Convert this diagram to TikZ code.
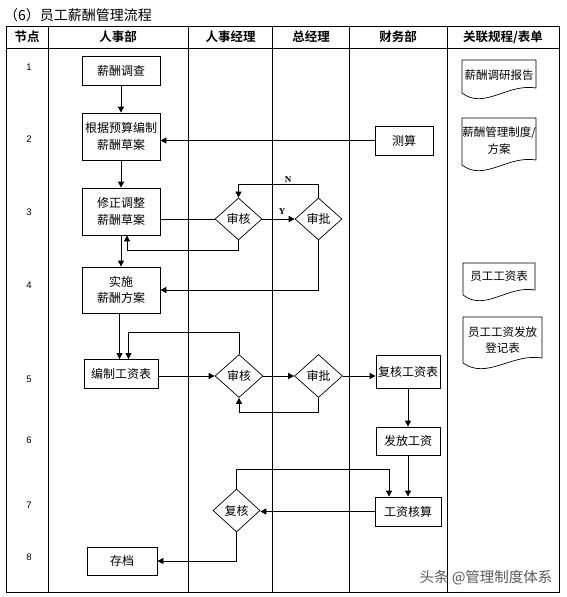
\documentclass[tikz,border=0pt]{standalone}
\usepackage{fontspec}
\setmainfont{Noto Sans CJK SC}[BoldFont={Noto Sans CJK SC Bold}]
\newfontfamily\numfont{Liberation Sans}
\newfontfamily\ynfont{Liberation Serif}
\usetikzlibrary{shapes.geometric,arrows.meta}
\begin{document}
\begin{tikzpicture}[x=1pt,y=-1pt,
  every node/.style={font=\fontsize{12}{16.5}\selectfont},
  procbox/.style={draw, line width=0.8pt, inner sep=1pt, align=center, minimum width=78pt, minimum height=29pt},
  decbox/.style={draw, diamond, line width=0.7pt, inner sep=0pt, minimum width=47pt, minimum height=42pt},
  arr/.style={line width=0.8pt, -{Triangle[length=6pt,width=6pt]}},
  ln/.style={line width=0.8pt},
  hdr/.style={font=\bfseries\fontsize{12.5}{14}\selectfont, inner sep=0pt},
  rownum/.style={font=\numfont\fontsize{9.5}{11}\selectfont, inner sep=0pt},
  ynlbl/.style={font=\ynfont\bfseries\fontsize{9}{10}\selectfont, inner sep=0pt},
  doctext/.style={align=center, font=\fontsize{11.5}{17}\selectfont, inner sep=0pt},
  docline/.style={line width=0.7pt},
  tbl/.style={line width=0.9pt}
]
\useasboundingbox (0,0) rectangle (566,597);

% title
\node[anchor=west, font=\fontsize{14}{16}\selectfont, inner sep=0pt] (title) at (4,15) {（6）员工薪酬管理流程};

% table
\draw[tbl] (6,26) rectangle (559,592);
\draw[tbl] (6,48) -- (559,48);
\foreach \x in {48,188.5,272.5,349,447.5} \draw[tbl] (\x,26) -- (\x,592);

% header
\node[hdr] (h1) at (27,37) {节点};
\node[hdr] (h2) at (118,37) {人事部};
\node[hdr] (h3) at (230.5,37) {人事经理};
\node[hdr] (h4) at (311,37) {总经理};
\node[hdr] (h5) at (398,37) {财务部};
\node[hdr] (h6) at (503,37) {关联规程/表单};

% row numbers
\node[rownum] (r1) at (29,67) {1};
\node[rownum] (r2) at (29,139) {2};
\node[rownum] (r3) at (29,212) {3};
\node[rownum] (r4) at (29,285) {4};
\node[rownum] (r5) at (29,379) {5};
\node[rownum] (r6) at (29,440) {6};
\node[rownum] (r7) at (29,505) {7};
\node[rownum] (r8) at (29,557) {8};

% process nodes
\node[procbox] (n1) at (121,70.5) {薪酬调查};
\node[procbox, minimum height=47pt] (n2) at (121,136.5) {根据预算编制\\薪酬草案};
\node[procbox, minimum width=58pt] (c1) at (404,140.5) {测算};
\node[procbox, minimum height=47pt] (n3) at (121,211.5) {修正调整\\薪酬草案};
\node[decbox] (d1) at (238.5,219) {审核};
\node[decbox] (d2) at (318.5,219) {审批};
\node[procbox, minimum height=46pt] (n4) at (121,290) {实施\\薪酬方案};
\node[procbox, minimum width=74pt] (n5) at (121,374) {编制工资表};
\node[decbox, minimum width=48pt, minimum height=43pt] (d3) at (239,376) {审核};
\node[decbox, minimum width=48pt, minimum height=43pt] (d4) at (318.5,376) {审批};
\node[procbox, minimum width=64pt, minimum height=33pt] (c2) at (408,372) {复核工资表};
\node[procbox, minimum width=64pt, minimum height=28pt] (c3) at (408,441) {发放工资};
\node[procbox, minimum width=66pt, minimum height=29pt] (c4) at (408,511.5) {工资核算};
\node[decbox, minimum height=43pt] (d5) at (236.5,510.5) {复核};
\node[procbox, minimum width=70pt, minimum height=28pt] (n6) at (122,561) {存档};

% documents
\draw[docline] (462,93) -- (462,60) -- (536,60) -- (536,88) .. controls (508,83) and (484,110) .. (462,93);
\node[doctext] (t1) at (499,75) {薪酬调研报告};
\draw[docline] (462,165) -- (462,118) -- (536,118) -- (536,160) .. controls (508,155) and (484,182) .. (462,165);
\node[doctext] (t2) at (499,141) {薪酬管理制度/\\方案};
\draw[docline] (463,295) -- (463,263) -- (535,263) -- (535,290) .. controls (508,285) and (485,312) .. (463,295);
\node[doctext] (t3) at (499,276) {员工工资表};
\draw[docline] (463,363) -- (463,317) -- (542,317) -- (542,358) .. controls (512,353) and (487,380) .. (463,363);
\node[doctext, font=\fontsize{11.5}{16}\selectfont] (t4) at (502.5,340) {员工工资发放\\登记表};

% connectors
\draw[arr] (n1) -- (n2);
\draw[arr] (c1.west) -- (c1.west -| n2.east);
\draw[arr] (n2) -- (n3);
\draw[ln] (d1.west -| n3.east) -- (d1.west);
\draw[arr] (d1.east) -- (d2.west);
\node[ynlbl] (lY) at (282,212) {Y};
\draw[arr] (d2.north) -- (d2.north |- 0,184) -| (d1.north);
\node[ynlbl] (lN) at (288,179.5) {N};
\coordinate (lp3) at ([xshift=6pt]n3.south);
\draw[arr] (d1.south) |- (lp3 |- 0,250) -- (lp3);
\draw[arr] (n3) -- (n4);
\draw[arr] (d2.south) |- (n4.east);
\coordinate (m5) at ([xshift=-1.5pt]n5.north);
\draw[arr] (m5 |- n4.south) -- (m5);
\coordinate (l5) at ([xshift=7.5pt]n5.north);
\draw[arr] (d3.north) |- (l5 |- 0,332) -- (l5);
\draw[arr] (n5.east |- d3.west) -- (d3.west);
\draw[arr] (d3) -- (d4);
\draw[arr] (d4.south) |- (d3.south |- 0,412) -- (d3.south);
\draw[arr] (d4.east) -- (d4.east -| c2.west);
\draw[arr] (c2) -- (c3);
\draw[arr] (c3) -- (c4);
\coordinate (k4) at ([xshift=-19pt]c4.north);
\draw[arr] (d5.north) |- (k4 |- 0,469) -- (k4);
\draw[arr] (c4.west) -- (c4.west -| d5.east);
\draw[arr] (d5.south) |- (n6.east);

% watermark
\node[font=\fontsize{14.5}{16}\selectfont, text=black!65, inner sep=0pt] (wm) at (486,578) {头条 @管理制度体系};
\end{tikzpicture}
\end{document}
